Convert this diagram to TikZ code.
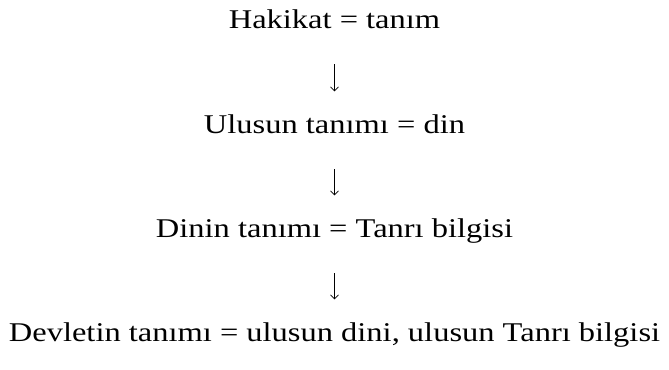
\documentclass[tikz,border=0pt]{standalone}
\usepackage{fontspec}
\setmainfont[FakeStretch=1.2]{Liberation Serif}
\usetikzlibrary{arrows.meta}

\begin{document}
\begin{tikzpicture}[
    x=0.75pt, y=-0.75pt,
    line/.style={inner sep=0pt, anchor=base, font=\fontsize{20.3}{24}\selectfont, text height=14pt, text depth=4pt},
    arr/.style={-{Straight Barb[length=3pt,width=6pt]}, line width=0.5pt, shorten <=23pt, shorten >=17pt}
]
\useasboundingbox (0,0) rectangle (669,369);
\node[line] (hak) at (334.5,28) {Hakikat = tanım};
\node[line] (ulu) at (334.5,133) {Ulusun tanımı = din};
\node[line] (din) at (334.5,237) {Dinin tanımı = Tanrı bilgisi};
\node[line] (dev) at (334.5,341) {Devletin tanımı = ulusun dini, ulusun Tanrı bilgisi};

\draw[arr] (hak) -- (ulu);
\draw[arr] (ulu) -- (din);
\draw[arr] (din) -- (dev);
\end{tikzpicture}
\end{document}
